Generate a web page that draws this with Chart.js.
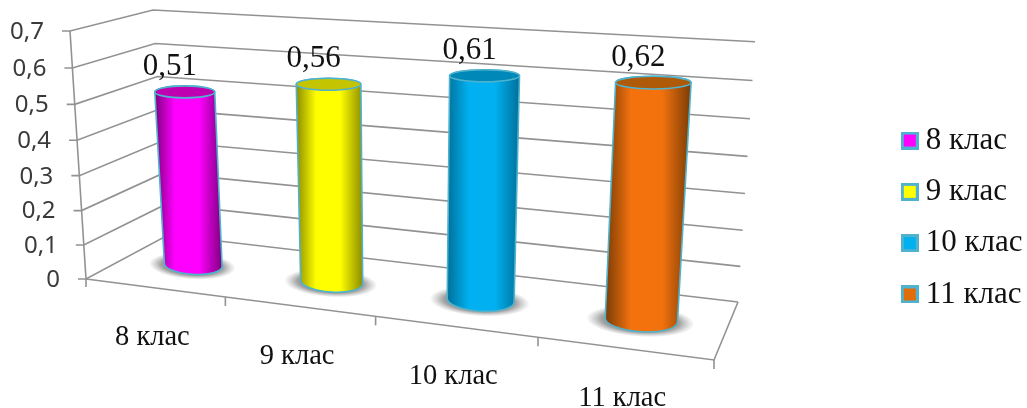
<!DOCTYPE html>
<html><head><meta charset="utf-8">
<style>html,body{margin:0;padding:0;background:#fff}canvas{display:block}</style>
<script src="https://cdn.jsdelivr.net/npm/chart.js@4"></script>
</head><body><canvas id="c" width="1027" height="408"></canvas>
<script>
const categories = ['8 клас', '9 клас', '10 клас', '11 клас'];
const values = [0.51, 0.56, 0.61, 0.62];
const valueLabels = ['0,51', '0,56', '0,61', '0,62'];
const fillColors = ['#FF00FF', '#FFFF00', '#00B0F0', '#F3720E'];
const legendColors = ['#FF00FF', '#FFFF00', '#00B0F0', '#E36C0A'];
const edgeColors = ['#7E007E', '#8C8C00', '#00709A', '#7A3C06'];
const capColors = ['#BE00B0', '#C4C400', '#0088B8', '#AE5A08'];

// Perspective frame of the 3D box: floor corners, [front-left, front-right, back-right, back-left]
const floorQuad = [[86,279],[714,360],[738,302],[168,235]];
const RIM = '#4FB3CE', GRID = '#929292';

function quadMap(q){
  const [[x0,y0],[x1,y1],[x2,y2],[x3,y3]] = q;
  const dx1=x1-x2, dx2=x3-x2, sx=x0-x1+x2-x3, dy1=y1-y2, dy2=y3-y2, sy=y0-y1+y2-y3;
  const den=dx1*dy2-dx2*dy1;
  const g=(sx*dy2-dx2*sy)/den, h=(dx1*sy-sx*dy1)/den;
  const a=x1-x0+g*x1, b=x3-x0+h*x3, d=y1-y0+g*y1, e=y3-y0+h*y3;
  return (u,w)=>{const n=g*u+h*w+1;return [(a*u+b*w+x0)/n,(d*u+e*w+y0)/n];};
}
const floorMap = quadMap(floorQuad);
// where a floor point ends up at the top of the value axis
function lift(F){
  const dx=F[0]-86, dy=F[1]-279;
  return [F[0]-16+0.0483*dx+0.0672*dy, F[1]-(248+0.0003*dx+0.523*dy)];
}
let area = null;
function project(px, py, w){
  let u=(px-area.left)/(area.right-area.left);
  u-=0.03*u*(1-u);
  const v=(area.bottom-py)/(area.bottom-area.top);
  const t=v/(1+0.05*(1-v));
  const F=floorMap(u,w), T=lift(F);
  return [F[0]+(T[0]-F[0])*t, F[1]+(T[1]-F[1])*t];
}
function line(ctx, pts){
  ctx.beginPath();
  pts.forEach((p,i)=> i?ctx.lineTo(p[0],p[1]):ctx.moveTo(p[0],p[1]));
  ctx.stroke();
}
function legendSwatch(color){
  const c=document.createElement('canvas');c.width=18;c.height=18;
  const x=c.getContext('2d');
  x.fillStyle=RIM;x.fillRect(0,0,18,18);
  x.fillStyle=color;x.fillRect(3,3,12,12);
  return c;
}

class CylinderElement extends Chart.BarElement {
  static id = 'cylinder';
  draw(ctx){
    const i = this.$index, hw = this.width/2, R = 0.21, W = 0.48;
    const ell = (py,tilt)=>{
      const L0=project(this.x-hw,py,W), R0=project(this.x+hw,py,W);
      const f=project(this.x,py,W-R), b=project(this.x,py,W+R);
      const cx=(L0[0]+R0[0])/2, cy=(L0[1]+R0[1])/2, a=Math.hypot(R0[0]-L0[0],R0[1]-L0[1])/2;
      const rot=Math.atan2(R0[1]-L0[1],R0[0]-L0[0])*tilt;
      return {cx,cy,a,b:Math.abs(f[1]-b[1])/2,rot,
              L:[cx-a*Math.cos(rot),cy-a*Math.sin(rot)],R:[cx+a*Math.cos(rot),cy+a*Math.sin(rot)]};
    };
    const top=ell(this.y,0), bot=ell(this.base,0.5);
    ctx.save();
    // contact shadow
    ctx.save();
    ctx.translate(bot.cx-1, bot.cy+1);
    ctx.rotate(bot.rot);
    ctx.scale(1,(bot.b+4)/(bot.a*1.5));
    const sr=bot.a*1.5, sg=ctx.createRadialGradient(0,0,sr*0.45,0,0,sr);
    sg.addColorStop(0,'rgba(90,90,90,0.85)');
    sg.addColorStop(0.5,'rgba(105,105,105,0.6)');
    sg.addColorStop(1,'rgba(140,140,140,0)');
    ctx.fillStyle=sg;
    ctx.beginPath();ctx.arc(0,0,sr,0,Math.PI*2);ctx.fill();
    ctx.restore();
    // body
    const x0=Math.min(top.L[0],bot.L[0]), x1=Math.max(top.R[0],bot.R[0]);
    const g=ctx.createLinearGradient(x0,0,x1,0);
    g.addColorStop(0,edgeColors[i]);
    g.addColorStop(0.3,fillColors[i]);
    g.addColorStop(0.66,fillColors[i]);
    g.addColorStop(1,edgeColors[i]);
    ctx.beginPath();
    ctx.moveTo(top.L[0],top.L[1]);
    ctx.lineTo(bot.L[0],bot.L[1]);
    ctx.ellipse(bot.cx,bot.cy,bot.a,bot.b,bot.rot,Math.PI,0,true);
    ctx.lineTo(top.R[0],top.R[1]);
    ctx.ellipse(top.cx,top.cy,top.a,top.b,top.rot,0,Math.PI,true);
    ctx.closePath();
    ctx.fillStyle=g;ctx.fill();
    ctx.lineWidth=1.6;ctx.strokeStyle=RIM;ctx.stroke();
    // cap
    ctx.beginPath();
    ctx.ellipse(top.cx,top.cy,top.a,top.b,top.rot,0,Math.PI*2);
    ctx.fillStyle=capColors[i];ctx.fill();ctx.stroke();
    ctx.restore();
    this.capCentre=[top.cx,top.cy];
  }
}
class CylinderController extends Chart.BarController {
  static id = 'cylinder';
  static defaults = {...Chart.BarController.defaults, dataElementType:'cylinder'};
  static overrides = Chart.BarController.overrides;
  updateElements(bars,start,count,mode){
    super.updateElements(bars,start,count,mode);
    for(let i=start;i<start+count;i++) bars[i].$index=i;
  }
}
Chart.register(CylinderController, CylinderElement);

const frame3d = {
  id:'frame3d',
  afterLayout(chart){
    area=chart.chartArea;
    const lg=chart.legend, dx=889-lg.left, dy=217.5-(lg.top+lg.bottom)/2;
    lg.left+=dx;lg.right+=dx;lg.top+=dy;lg.bottom+=dy;
  },
  beforeDatasetsDraw(chart){
    const ctx=chart.ctx, ys=chart.scales.y, xs=chart.scales.x, a=chart.chartArea;
    ctx.save();
    ctx.strokeStyle=GRID;ctx.lineWidth=1.6;ctx.lineJoin='miter';
    ys.ticks.forEach(t=>{
      const y=ys.getPixelForValue(t.value);
      const p=project(a.left,y,0), q=project(a.left,y,1), r=project(a.right,y,1);
      line(ctx,[[p[0]-8,p[1]],p,q,r]);
    });
    // value axis
    const bl=project(a.left,a.bottom,0);
    line(ctx,[project(a.left,a.top,0),bl,[bl[0],bl[1]+8]]);
    // floor edges
    const fr=project(a.right,a.bottom,0);
    line(ctx,[bl,fr,project(a.right,a.bottom,1)]);
    // category ticks
    const n=categories.length;
    for(let i=1;i<=n;i++){
      const p=project(a.left+(a.right-a.left)*i/n,a.bottom,0);
      line(ctx,[p,[p[0],p[1]+9]]);
    }
    // value tick labels
    ctx.fillStyle='#3A3A3A';ctx.font='24px "Noto Sans"';ctx.textAlign='right';ctx.textBaseline='middle';
    ys.ticks.forEach(t=>{
      const p=project(a.left,ys.getPixelForValue(t.value),0);
      ctx.fillText(t.label,p[0]-26,p[1]+1);
    });
    // category labels
    ctx.fillStyle='#111';ctx.font='28.5px "Liberation Serif"';ctx.textAlign='center';
    categories.forEach((c,i)=>{
      const p=project(xs.getPixelForValue(i),a.bottom,0);
      ctx.fillText(c,p[0]-2,p[1]+50);
    });
    ctx.restore();
  },
  afterDatasetsDraw(chart){
    const ctx=chart.ctx;
    ctx.save();
    ctx.fillStyle='#111';ctx.font='31px "Liberation Serif"';ctx.textAlign='center';ctx.textBaseline='middle';
    chart.getDatasetMeta(0).data.forEach((el,i)=>{
      const c=el.capCentre;
      ctx.fillText(valueLabels[i],c[0]-15,c[1]-25);
    });
    ctx.restore();
  }
};

new Chart(document.getElementById('c'),{
  type:'cylinder',
  data:{labels:categories,datasets:[{data:values,backgroundColor:fillColors,barPercentage:0.43,categoryPercentage:1,clip:false}]},
  plugins:[frame3d],
  options:{
    responsive:false,animation:false,
    layout:{padding:{left:86,top:31,bottom:129,right:130}},
    scales:{
      x:{display:false,offset:true},
      y:{display:false,min:0,max:0.7,ticks:{stepSize:0.1,callback:v=>v===0?'0':v.toFixed(1).replace('.',',')}}
    },
    plugins:{
      tooltip:{enabled:false},
      legend:{position:'right',labels:{
        usePointStyle:true,boxWidth:1,boxHeight:15,padding:20.3,color:'#111',font:{family:'"Liberation Serif"',size:31},
        generateLabels:()=>categories.map((c,i)=>({text:c,pointStyle:legendSwatch(legendColors[i]),fillStyle:legendColors[i],strokeStyle:RIM,lineWidth:0,fontColor:'#111',index:i,hidden:false}))
      }}
    }
  }
});
</script></body></html>
